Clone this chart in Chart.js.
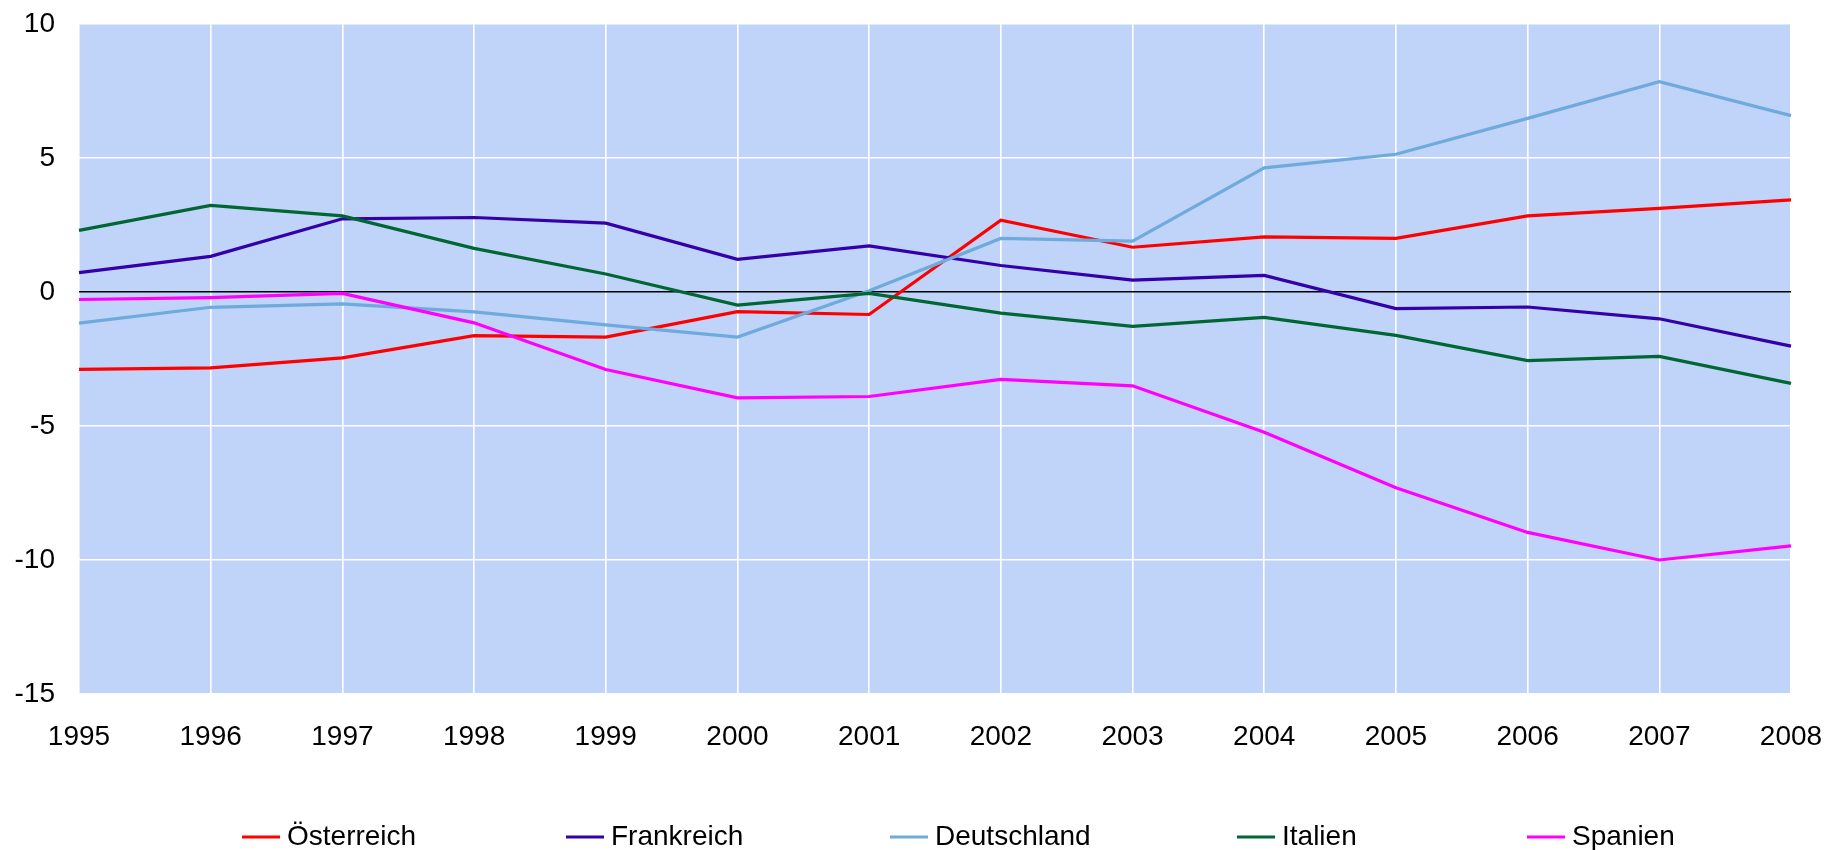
<!DOCTYPE html>
<html>
<head>
<meta charset="utf-8">
<script src="https://cdn.jsdelivr.net/npm/chart.js@4/dist/chart.umd.min.js"></script>
<style>
	html, body { margin: 0; padding: 0; background: #fff; }
	#wrap { width: 1825px; height: 850px; }
</style>
</head>
<body>
<div id="wrap"><canvas id="trend-chart"></canvas></div>
<script>
// Jahre (x-Achse)
const years = ['1995', '1996', '1997', '1998', '1999', '2000', '2001', '2002', '2003', '2004', '2005', '2006', '2007', '2008'];

// Werte je Land
const oesterreich = [-2.89, -2.83, -2.46, -1.63, -1.68, -0.73, -0.84, 2.68, 1.67, 2.06, 2.0, 2.84, 3.12, 3.44];
const frankreich = [0.72, 1.33, 2.73, 2.78, 2.57, 1.22, 1.72, 0.99, 0.44, 0.62, -0.62, -0.56, -1.0, -2.02];
const deutschland = [-1.16, -0.57, -0.44, -0.74, -1.23, -1.68, 0.05, 2.0, 1.9, 4.63, 5.14, 6.48, 7.85, 6.58];
const italien = [2.3, 3.23, 2.84, 1.63, 0.67, -0.49, -0.05, -0.79, -1.28, -0.95, -1.62, -2.56, -2.4, -3.41];
const spanien = [-0.28, -0.21, -0.05, -1.15, -2.89, -3.95, -3.9, -3.26, -3.5, -5.23, -7.3, -8.97, -10.0, -9.47];

const seriesNames = ['Österreich', 'Frankreich', 'Deutschland', 'Italien', 'Spanien'];
const seriesValues = [oesterreich, frankreich, deutschland, italien, spanien];
const seriesColors = ['#FF0000', '#3300AA', '#6EAADC', '#006633', '#FF00FF'];

const FONT = { family: '"Liberation Sans", Arial, sans-serif', size: 28 };

// Hintergrund der Zeichenfläche
const plotBackground = {
	id: 'plotBackground',
	beforeDraw(chart) {
		const { ctx, chartArea: a } = chart;
		ctx.save();
		ctx.fillStyle = '#C0D3F8';
		ctx.fillRect(a.left, a.top, a.right - a.left, a.bottom - a.top);
		ctx.restore();
	},
};

// Legende unten, weit auseinander wie in der Vorlage
const bottomLegend = {
	id: 'bottomLegend',
	afterDraw(chart) {
		const ctx = chart.ctx;
		const starts = [242, 566, 890, 1237, 1527];
		const y = 837;
		ctx.save();
		ctx.font = `${FONT.size}px ${FONT.family}`;
		ctx.textBaseline = 'middle';
		ctx.textAlign = 'left';
		chart.data.datasets.forEach((ds, i) => {
			const x = starts[i];
			ctx.strokeStyle = ds.borderColor;
			ctx.lineWidth = 3;
			ctx.beginPath();
			ctx.moveTo(x, y);
			ctx.lineTo(x + 38, y);
			ctx.stroke();
			ctx.fillStyle = '#000';
			ctx.fillText(ds.label, x + 45, y);
		});
		ctx.restore();
	},
};

const datasets = seriesNames.map((name, i) => ({
	label: name,
	data: seriesValues[i],
	borderColor: seriesColors[i],
	backgroundColor: seriesColors[i],
	borderWidth: 3.2,
	pointRadius: 0,
	tension: 0,
	fill: false,
	order: seriesNames.length - 1 - i, // letzte Reihe oben
}));

new Chart(document.getElementById('trend-chart'), {
	type: 'line',
	data: { labels: years, datasets },
	options: {
		responsive: true,
		maintainAspectRatio: false,
		animation: false,
		layout: { padding: { left: 0, right: 34, top: 24, bottom: 96 } },
		plugins: {
			legend: { display: false },
			tooltip: { enabled: false },
		},
		scales: {
			x: {
				offset: false,
				grid: { color: '#FFFFFF', lineWidth: 1.6, drawTicks: false },
				border: { display: false },
				ticks: { color: '#000', font: FONT, padding: 26, maxRotation: 0, autoSkip: false },
				afterFit: (s) => {
					s.height = 60;
					s.paddingLeft = 0;
					s.paddingRight = 0;
				},
			},
			y: {
				min: -15,
				max: 10,
				grid: {
					drawTicks: false,
					color: (c) => (c.tick && c.tick.value === 0 ? '#000000' : '#FFFFFF'),
					lineWidth: 1.6,
				},
				border: { display: false },
				ticks: { stepSize: 5, color: '#000', font: FONT, padding: 24 },
				afterFit: (s) => {
					s.width = 79;
					s.paddingTop = 0;
					s.paddingBottom = 0;
				},
			},
		},
	},
	plugins: [plotBackground, bottomLegend],
});
</script>
</body>
</html>
